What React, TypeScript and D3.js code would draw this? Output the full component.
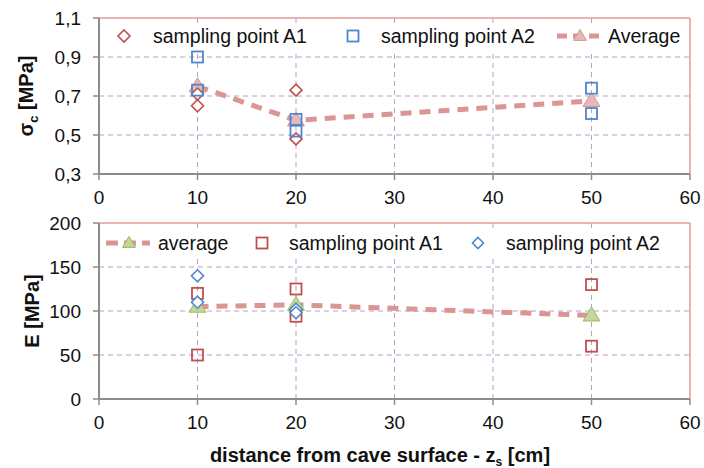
import React from "react";
import * as d3 from "d3";

const xTicks = [0, 10, 20, 30, 40, 50, 60];
const sigmaTicks = [0.3, 0.5, 0.7, 0.9, 1.1];
const eTicks = [0, 50, 100, 150, 200];

const sigmaA1 = [
  { x: 10, y: 0.71 }, { x: 10, y: 0.65 },
  { x: 20, y: 0.73 }, { x: 20, y: 0.48 },
];
const sigmaA2 = [
  { x: 10, y: 0.9 }, { x: 10, y: 0.73 },
  { x: 20, y: 0.58 }, { x: 20, y: 0.52 },
  { x: 50, y: 0.74 }, { x: 50, y: 0.61 },
];
const sigmaAvg = [
  { x: 10, y: 0.75 }, { x: 20, y: 0.575 }, { x: 50, y: 0.675 },
];

const eA1 = [
  { x: 10, y: 120 }, { x: 10, y: 50 },
  { x: 20, y: 125 }, { x: 20, y: 94 },
  { x: 50, y: 130 }, { x: 50, y: 60 },
];
const eA2 = [
  { x: 10, y: 140 }, { x: 10, y: 110 },
  { x: 20, y: 102 }, { x: 20, y: 98 },
];
const eAvg = [
  { x: 10, y: 105 }, { x: 20, y: 107 }, { x: 50, y: 95 },
];

const RED = "#C0504D";
const BLUE = "#4F86CF";
const PINK = "#D99694";
const PINK_FILL = "#E6B9B8";
const GREEN = "#9BBB59";
const GREEN_FILL = "#C3D69B";
const GRID = "#B3A2C7";
const AXIS = "#8C8C8C";
const BORDER = "#E39B9B";
const FONT = "'Liberation Sans', Arial, sans-serif";
const TXT = "#111";

const X0 = 99;
const X1 = 690;

const Diamond = ({ cx, cy, color, r = 6 }: any) => (
  <path
    d={`M${cx},${cy - r}L${cx + r},${cy}L${cx},${cy + r}L${cx - r},${cy}Z`}
    fill="white"
    stroke={color}
    strokeWidth={1.6}
  />
);
const Square = ({ cx, cy, color, s = 11 }: any) => (
  <rect x={cx - s / 2} y={cy - s / 2} width={s} height={s} fill="none" stroke={color} strokeWidth={1.8} />
);
const Tri = ({ cx, cy, fill, stroke, w = 17, h = 14 }: any) => (
  <path
    d={`M${cx},${cy - h * 0.6}L${cx + w / 2},${cy + h * 0.4}L${cx - w / 2},${cy + h * 0.4}Z`}
    fill={fill}
    stroke={stroke}
    strokeWidth={1}
  />
);

function Panel({
  yTop, yBot, yDomain, yTicks, fmt, children, title,
}: any) {
  const x = d3.scaleLinear().domain([0, 60]).range([X0, X1]);
  const y = d3.scaleLinear().domain(yDomain).range([yBot, yTop]);
  return (
    <g>
      {xTicks.filter((t) => t > 0 && t < 60).map((t) => (
        <line key={"gx" + t} x1={x(t)} x2={x(t)} y1={yTop} y2={yBot} stroke={GRID} strokeWidth={1} strokeDasharray="5,4" />
      ))}
      {yTicks.slice(1, -1).map((t: number) => (
        <line key={"gy" + t} x1={X0} x2={X1} y1={y(t)} y2={y(t)} stroke={GRID} strokeWidth={1} strokeDasharray="5,4" />
      ))}
      <line x1={X0} x2={X1} y1={yTop} y2={yTop} stroke={BORDER} strokeWidth={1.5} />
      <line x1={X1} x2={X1} y1={yTop} y2={yBot} stroke={BORDER} strokeWidth={1.5} />
      <line x1={X0} x2={X0} y1={yTop} y2={yBot} stroke={AXIS} strokeWidth={2} />
      <line x1={X0} x2={X1} y1={yBot} y2={yBot} stroke={AXIS} strokeWidth={2} />
      {yTicks.map((t: number) => (
        <g key={"yt" + t}>
          <line x1={X0 - 6} x2={X0} y1={y(t)} y2={y(t)} stroke={AXIS} strokeWidth={1.5} />
          <text x={X0 - 18} y={y(t)} dy="0.35em" textAnchor="end" fontSize={19} fontFamily={FONT} fill={TXT}>
            {fmt(t)}
          </text>
        </g>
      ))}
      {xTicks.map((t) => (
        <g key={"xt" + t}>
          <line x1={x(t)} x2={x(t)} y1={yBot} y2={yBot + 6} stroke={AXIS} strokeWidth={1.5} />
          <text x={x(t)} y={yBot + 23} dy="0.35em" textAnchor="middle" fontSize={19} fontFamily={FONT} fill={TXT}>
            {t}
          </text>
        </g>
      ))}
      {children(x, y)}
      {title}
    </g>
  );
}

export default function App() {
  const line = (x: any, y: any) =>
    d3.line<any>().x((d) => x(d.x)).y((d) => y(d.y)).curve(d3.curveLinear);
  const sig = (t: number) => t.toFixed(1).replace(".", ",");
  return (
    <svg width={704} height={468} style={{ position: "absolute", left: 0, top: 0 }}>
      <rect width={704} height={468} fill="white" />
      <Panel
        yTop={18}
        yBot={174}
        yDomain={[0.3, 1.1]}
        yTicks={sigmaTicks}
        fmt={sig}
        title={
          <text transform="translate(33,96) rotate(-90)" textAnchor="middle" fontSize={20} fontWeight="bold" fontFamily={FONT} fill={TXT}>
            σ<tspan fontSize={13} dy={5}>c</tspan><tspan dy={-5}> [MPa]</tspan>
          </text>
        }
      >
        {(x: any, y: any) => (
          <g>
            <path d={line(x, y)(sigmaAvg) || ""} fill="none" stroke={PINK} strokeWidth={5} strokeDasharray="11,8" />
            {sigmaAvg.map((d, i) => (
              <Tri key={"ta" + i} cx={x(d.x)} cy={y(d.y)} fill={PINK_FILL} stroke={PINK} />
            ))}
            {sigmaA1.map((d, i) => (
              <Diamond key={"a1" + i} cx={x(d.x)} cy={y(d.y)} color={RED} />
            ))}
            {sigmaA2.map((d, i) => (
              <Square key={"a2" + i} cx={x(d.x)} cy={y(d.y)} color={BLUE} />
            ))}
            {/* legend */}
            <rect x={112} y={24} width={572} height={26} fill="white" />
            <Diamond cx={124} cy={36} color={RED} />
            <text x={153} y={36} dy="0.35em" fontSize={19.5} fontFamily={FONT} fill={TXT}>sampling point A1</text>
            <Square cx={353} cy={36} color={BLUE} />
            <text x={381} y={36} dy="0.35em" fontSize={19.5} fontFamily={FONT} fill={TXT}>sampling point A2</text>
            <line x1={557} x2={600} y1={36} y2={36} stroke={PINK} strokeWidth={5} strokeDasharray="10,6" />
            <Tri cx={580} cy={36} fill={PINK_FILL} stroke={PINK} w={13} h={11} />
            <text x={608} y={36} dy="0.35em" fontSize={19.5} fontFamily={FONT} fill={TXT}>Average</text>
          </g>
        )}
      </Panel>
      <Panel
        yTop={223}
        yBot={399}
        yDomain={[0, 200]}
        yTicks={eTicks}
        fmt={(t: number) => String(t)}
        title={
          <text transform="translate(39,311) rotate(-90)" textAnchor="middle" fontSize={20} fontWeight="bold" fontFamily={FONT} fill={TXT}>
            E [MPa]
          </text>
        }
      >
        {(x: any, y: any) => (
          <g>
            <path d={line(x, y)(eAvg) || ""} fill="none" stroke={PINK} strokeWidth={5} strokeDasharray="11,8" />
            {eAvg.map((d, i) => (
              <Tri key={"te" + i} cx={x(d.x)} cy={y(d.y)} fill={GREEN_FILL} stroke={GREEN} />
            ))}
            {eA1.map((d, i) => (
              <Square key={"e1" + i} cx={x(d.x)} cy={y(d.y)} color={RED} />
            ))}
            {eA2.map((d, i) => (
              <Diamond key={"e2" + i} cx={x(d.x)} cy={y(d.y)} color={BLUE} />
            ))}
            <rect x={102} y={230} width={582} height={26} fill="white" />
            <line x1={106} x2={150} y1={243} y2={243} stroke={PINK} strokeWidth={5} strokeDasharray="12,6" />
            <Tri cx={129} cy={243} fill={GREEN_FILL} stroke={GREEN} w={13} h={11} />
            <text x={158} y={243} dy="0.35em" fontSize={19.5} fontFamily={FONT} fill={TXT}>average</text>
            <Square cx={262} cy={243} color={RED} />
            <text x={289} y={243} dy="0.35em" fontSize={19.5} fontFamily={FONT} fill={TXT}>sampling point A1</text>
            <Diamond cx={478} cy={243} color={BLUE} r={5.5} />
            <text x={506} y={243} dy="0.35em" fontSize={19.5} fontFamily={FONT} fill={TXT}>sampling point A2</text>
          </g>
        )}
      </Panel>
      <text x={380} y={455} dy="0.35em" textAnchor="middle" fontSize={20} fontWeight="bold" fontFamily={FONT} fill={TXT}>
        distance from cave surface - z<tspan fontSize={12} dy={4}>s</tspan><tspan dy={-4}> [cm]</tspan>
      </text>
    </svg>
  );
}
